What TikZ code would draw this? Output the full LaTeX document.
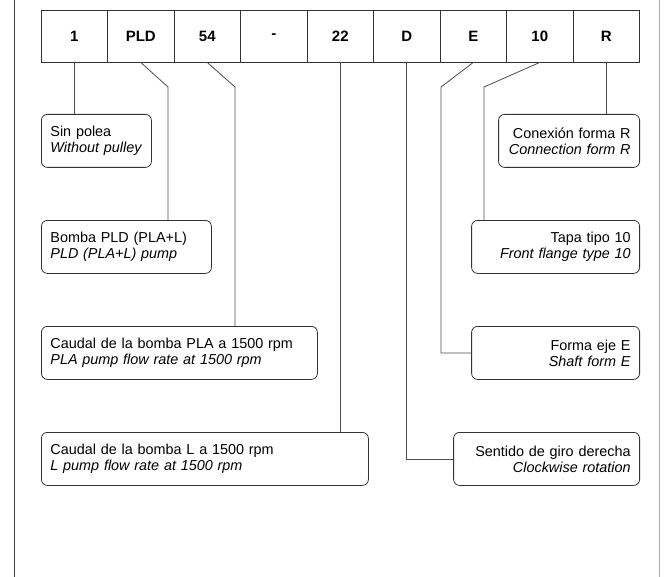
\documentclass[tikz,border=0pt]{standalone}
\usepackage{fontspec}
\setmainfont{Liberation Sans}
\begin{document}
\begin{tikzpicture}[x=1pt,y=-1pt,
  cell/.style={draw=black!80, line width=0.9pt, minimum width=66.5pt, minimum height=52pt,
    inner sep=0pt, font=\bfseries\fontsize{15}{17}\selectfont},
  lbox/.style={draw=black!80, line width=0.8pt, rounded corners=6pt, anchor=north west,
    minimum height=53pt, inner xsep=9pt, inner ysep=0pt, align=left,
    font=\fontsize{14.4}{16}\selectfont},
  rbox/.style={lbox, anchor=north east, align=right},
  conn/.style={draw=black!70, line width=0.8pt}
]
\useasboundingbox (0,0) rectangle (668,577);
\draw[black!75, line width=1pt] (14,0) -- (14,577);
\draw[black!35, line width=1pt] (659,0) -- (659,577);

\foreach \t [count=\i] in {1,PLD,54,-,22,D,E,10,R}{
  \node[cell] (c\i) at ({41+66.5*(\i-0.5)},36) {\t};
}

\node[lbox, text width=92pt] (sin) at (41,114) {Sin polea\\\textit{Without pulley}};
\node[lbox, text width=152pt] (bomba) at (41,220) {Bomba PLD (PLA+L)\\\textit{PLD (PLA+L) pump}};
\node[lbox, text width=258pt] (capla) at (41,326) {Caudal de la bomba PLA a 1500 rpm\\\textit{PLA pump flow rate at 1500 rpm}};
\node[lbox, text width=309pt] (capl) at (41,432) {Caudal de la bomba L a 1500 rpm\\\textit{L pump flow rate at 1500 rpm}};

\node[rbox, text width=123pt] (conex) at (640,114) {Conexión forma R\\\textit{Connection form R}};
\node[rbox, text width=150pt] (tapa) at (640,220) {Tapa tipo 10\\\textit{Front flange type 10}};
\node[rbox, text width=150pt] (forma) at (640,326) {Forma eje E\\\textit{Shaft form E}};
\node[rbox, text width=168pt] (sent) at (640,432) {Sentido de giro derecha\\\textit{Clockwise rotation}};

\coordinate (k2) at (168,87);
\coordinate (k3) at (235,87);
\coordinate (k7) at (441,87);
\coordinate (k8) at (484,87);

\draw[conn] (c1.south) -- (c1.south |- sin.north);
\draw[conn] (c2.south) -- (k2) -- (k2 |- bomba.north);
\draw[conn] (c3.south) -- (k3) -- (k3 |- capla.north);
\draw[conn] (c5.south) -- (c5.south |- capl.north);
\draw[conn] (c6.south) -- (c6.south |- sent.west) -- (sent.west);
\draw[conn] (c7.south) -- (k7) -- (k7 |- forma.west) -- (forma.west);
\draw[conn] (c8.south) -- (k8) -- (k8 |- tapa.north);
\draw[conn] (c9.south) -- (c9.south |- conex.north);
\end{tikzpicture}
\end{document}
